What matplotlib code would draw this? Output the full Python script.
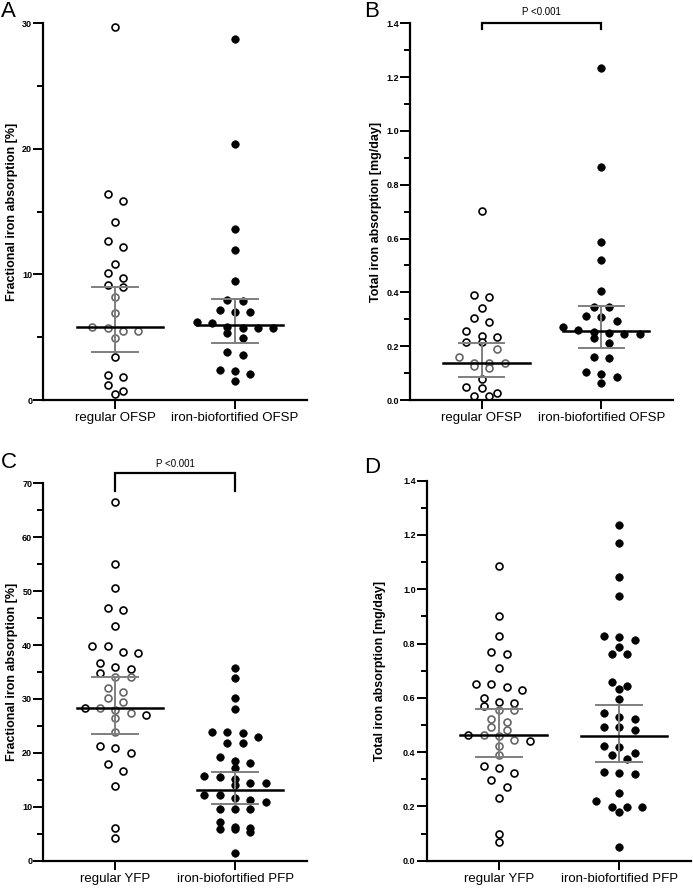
import numpy as np
import matplotlib.pyplot as plt

plt.rcParams['font.family'] = ['Liberation Sans', 'DejaVu Sans']

W, H = 693, 888

labels_ofsp = ["regular OFSP", "iron-biofortified OFSP"]
labels_pfp = ["regular YFP", "iron-biofortified PFP"]

# A: fractional absorption OFSP [%]
a_regular = [29.7, 16.4, 15.85, 14.15, 12.66, 12.2, 10.83, 10.14, 9.69, 9.16, 8.98, 8.18,
             6.9, 5.79, 5.71, 5.5, 5.5, 4.91, 3.4, 1.99, 1.81, 1.19, 0.74, 0.48]
a_iron = [28.75, 20.39, 13.59, 11.95, 9.5, 7.96, 7.91, 7.17, 7.03, 6.98, 6.24, 6.1,
          5.79, 5.71, 5.71, 5.71, 5.31, 4.91, 3.8, 3.58, 2.39, 2.31, 2.04, 1.51]
# B: total absorption OFSP [mg/day]
b_regular = [0.704, 0.390, 0.382, 0.341, 0.304, 0.291, 0.258, 0.239, 0.233, 0.214, 0.214, 0.19,
             0.161, 0.136, 0.136, 0.136, 0.128, 0.12, 0.077, 0.047, 0.0435, 0.025, 0.015, 0.015]
b_iron = [1.233, 0.867, 0.589, 0.520, 0.405, 0.3445, 0.3445, 0.313, 0.307, 0.295, 0.270, 0.260,
          0.254, 0.248, 0.245, 0.245, 0.229, 0.213, 0.161, 0.155, 0.105, 0.0966, 0.0867, 0.064]
# C: fractional absorption YFP / PFP [%]
c_regular = [66.5, 55.1, 50.6, 46.9, 46.5, 43.6, 39.83, 39.83, 38.77, 38.58, 36.73, 35.99,
             35.5, 34.76, 34.02, 34.02, 31.98, 31.35, 30.12, 29.5, 28.27, 28.27, 27.95, 27.45,
             27.03, 26.41, 23.93, 21.28, 20.85, 19.92, 17.9, 16.6, 13.9, 6.1, 4.3]
c_iron = [35.7, 33.8, 30.1, 28.1, 23.93, 23.93, 23.63, 22.89, 21.89, 21.89, 19.18, 18.55,
          18.18, 17.14, 15.71, 15.47, 15.1, 14.36, 14.36, 14.04, 12.19, 12.19, 11.57, 11.26,
          10.94, 9.53, 9.53, 9.53, 7.23, 6.31, 6.0, 5.82, 5.82, 5.38, 1.48]
# D: total absorption YFP / PFP [mg/day]
d_regular = [1.087, 0.901, 0.828, 0.768, 0.761, 0.711, 0.651, 0.651, 0.639, 0.629, 0.600, 0.584,
             0.582, 0.570, 0.555, 0.555, 0.521, 0.512, 0.492, 0.482, 0.463, 0.463, 0.461, 0.445,
             0.442, 0.423, 0.389, 0.349, 0.343, 0.324, 0.297, 0.273, 0.23, 0.10, 0.07]
d_iron = [1.237, 1.172, 1.046, 0.976, 0.828, 0.825, 0.813, 0.788, 0.760, 0.760, 0.66, 0.644,
          0.632, 0.595, 0.543, 0.531, 0.522, 0.494, 0.492, 0.482, 0.423, 0.418, 0.398, 0.389,
          0.374, 0.328, 0.322, 0.319, 0.251, 0.22, 0.197, 0.197, 0.197, 0.181, 0.052]

# median, q1, q3 as drawn
a_stats = [(5.79, 3.8, 8.97), (5.97, 4.51, 8.04)]
b_stats = [(0.136, 0.087, 0.211), (0.258, 0.192, 0.349)]
c_stats = [(28.4, 23.5, 34.1), (13.2, 10.5, 16.5)]
d_stats = [(0.463, 0.383, 0.558), (0.459, 0.365, 0.574)]


def swarm(values, center, row_h, step=0.064):
    vals = np.sort(np.asarray(values))[::-1]
    rows = []
    for v in vals:
        if rows and rows[-1][0] - v < row_h:
            rows[-1].append(v)
        else:
            rows.append([v])
    xs, ys = [], []
    for row in rows:
        n = len(row)
        for i, v in enumerate(row):
            xs.append(center + (2 * i - (n - 1)) * step)
            ys.append(v)
    return np.array(xs), np.array(ys)


def panel(rect, letter, letter_xy, regular, iron, stats, xlabels, ylabel,
          ymax, major, minor, fmt, pval=None, ypad=3):
    ax = fig.add_axes(rect)
    row_h = ymax * 7.5 / 377

    # open circles, greyed where they sit behind the error bar
    med, q1, q3 = stats[0]
    x, y = swarm(regular, 0, row_h)
    inside = (y >= q1) & (y <= q3) & (np.abs(x) <= 0.21)
    ax.plot(x[~inside], y[~inside], 'o', ms=5, mfc='white', mec='black', mew=1.2,
            clip_on=False, zorder=2)
    ax.plot(x[inside], y[inside], 'o', ms=5, mfc='white', mec='#666666', mew=1.2,
            clip_on=False, zorder=2)
    x, y = swarm(iron, 1, row_h)
    ax.plot(x, y, 'o', ms=5.4, mfc='black', mec='black', mew=0.5, clip_on=False, zorder=2)

    for i, (med, q1, q3) in enumerate(stats):
        ax.plot([i, i], [q1, q3], color='#7f7f7f', lw=1.4, zorder=3)
        for q in (q1, q3):
            ax.plot([i - 0.19, i + 0.19], [q, q], color='#7f7f7f', lw=1.4, zorder=3)
        ax.plot([i - 0.32, i + 0.40], [med, med], color='black', lw=1.8, zorder=4)

    ax.set_xlim(-0.6, 1.6)
    ax.set_ylim(0, ymax)
    for s in ('top', 'right'):
        ax.spines[s].set_visible(False)
    for s in ('left', 'bottom'):
        ax.spines[s].set_linewidth(1.6)

    ax.set_xticks([0, 1])
    ax.set_xticklabels(xlabels, fontsize=9.5)
    yt = np.arange(0, ymax + major / 2, major)
    ax.set_yticks(yt)
    ax.set_yticklabels([fmt % v for v in yt], fontsize=6.5, fontweight='bold')
    ax.set_yticks(np.arange(0, ymax + minor / 2, minor), minor=True)
    ax.tick_params(axis='y', which='major', length=7, width=1.4, pad=1)
    ax.tick_params(axis='y', which='minor', length=4.5, width=1.4)
    ax.tick_params(axis='x', length=6.5, width=1.4, pad=2)
    ax.set_ylabel(ylabel, fontsize=9, fontweight='bold', labelpad=ypad)

    if pval is not None:
        top, leg, ty = pval
        ax.plot([0, 0, 1, 1], [leg, top, top, leg], color='black', lw=1.6,
                clip_on=False, solid_joinstyle='miter')
        ax.text(0.5, ty, "P <0.001", fontsize=7, ha='center', va='center')

    fig.text(letter_xy[0] / W, 1 - letter_xy[1] / H, letter, fontsize=16,
             ha='left', va='top')
    return ax


def rect(l, r, t, b):
    return [l / W, 1 - b / H, (r - l) / W, (b - t) / H]


fig = plt.figure(figsize=(W / 100, H / 100), dpi=100)

panel(rect(43.3, 307, 23.3, 400), 'A', (1, 1), a_regular, a_iron, a_stats, labels_ofsp,
      'Fractional iron absorption [%]', 30, 10, 5, '%d')
panel(rect(410, 673, 23.3, 400), 'B', (364, 1), b_regular, b_iron, b_stats, labels_ofsp,
      'Total iron absorption [mg/day]', 1.4, 0.2, 0.1, '%.1f',
      pval=(1.4, 1.377, 1.442))
panel(rect(43.3, 307, 483.3, 860.7), 'C', (1, 452), c_regular, c_iron, c_stats, labels_pfp,
      'Fractional iron absorption [%]', 70, 10, 5, '%d',
      pval=(71.85, 68.6, 73.6))
panel(rect(426.7, 691.5, 480.7, 860.7), 'D', (364, 457), d_regular, d_iron, d_stats, labels_pfp,
      'Total iron absorption [mg/day]', 1.4, 0.2, 0.1, '%.1f', ypad=12)

fig.savefig('out.png', dpi=100)
